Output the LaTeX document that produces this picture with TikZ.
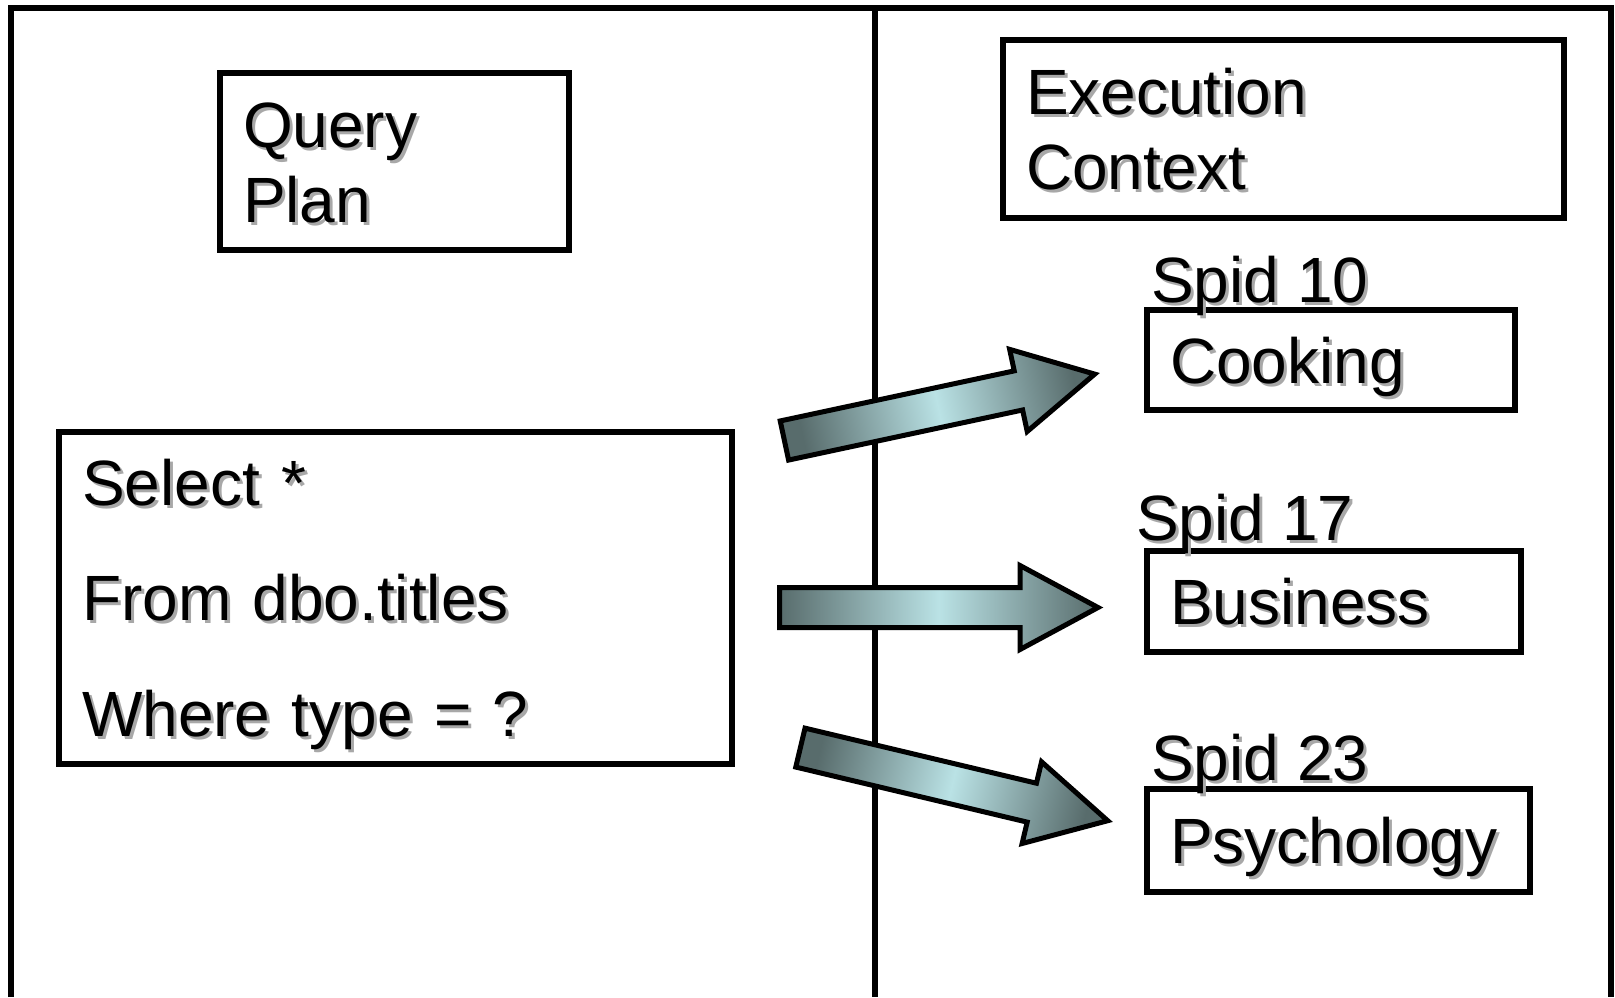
\documentclass[tikz,border=0pt]{standalone}
\usepackage{fontspec}
\setmainfont{Liberation Sans}
\usetikzlibrary{calc}

\definecolor{arrowdark}{RGB}{88,108,108}
\definecolor{arrowlight}{RGB}{186,226,229}
\definecolor{shadowgray}{RGB}{168,168,168}

% text with a soft drop shadow
\newcommand{\shd}[1]{\makebox[0pt][l]{\hspace{3pt}\raisebox{-3pt}{\textcolor{shadowgray}{#1}}}#1}

% block arrow between two named coordinates
\newcommand{\blockarrow}[3]{%
    \coordinate (#1-h) at ($(#2)!78pt!(#1)$);
    \draw[bigarrow, shading angle=#3]
        ($(#1)!20pt!90:(#2)$) -- ($(#1-h)!20pt!-90:(#1)$) -- ($(#1-h)!42pt!-90:(#1)$)
        -- (#2) -- ($(#1-h)!42pt!90:(#1)$) -- ($(#1-h)!20pt!90:(#1)$)
        -- ($(#1)!20pt!-90:(#2)$) -- cycle;
}

\begin{document}
\begin{tikzpicture}[
        x=1pt, y=-1pt,
        frame/.style={line width=6.5pt},
        box/.style={draw, line width=5.5pt, outer sep=0pt, inner xsep=23pt, align=left,
            font=\fontsize{64}{75}\selectfont},
        two lines/.style={text height=46pt, text depth=75pt},
        one line/.style={text height=46pt, text depth=0pt},
        tag/.style={inner sep=0pt, font=\fontsize{64}{75}\selectfont},
        bigarrow/.style={draw, line width=5pt, line join=miter,
            left color=arrowdark, right color=arrowdark, middle color=arrowlight},
    ]
    \useasboundingbox (0,0) rectangle (1615,997);

    % Outer frame and the divider
    \draw[frame] (11,997) -- (11,8) -- (1611,8) -- (1611,997);
    \draw[frame] (875,8) -- (875,997);

    % Draw the block arrows from the query to the contexts
    \foreach \i/\sx/\sy/\ex/\ey/\ang in {1/784.4/440.5/1094.7/374.1/102.1,
                                         2/779.5/607.5/1098/607.5/90,
                                         3/800.4/747.6/1107.7/820.7/76.6}
    {
        \coordinate (S-\i) at (\sx,\sy);
        \coordinate (T-\i) at (\ex,\ey);
        \blockarrow{S-\i}{T-\i}{\ang}
    }

    % Left side: plan and query text
    \node[box, two lines, minimum width=349pt, minimum height=177pt, text width=303pt]
        (plan) at (394.5,161.5) {\shd{Query}\\\shd{Plan}};
    \node[box, font=\fontsize{64}{115.5}\selectfont, text height=46pt, text depth=232pt,
        minimum width=673pt, minimum height=332pt, text width=627pt]
        (sel) at (395.5,598) {\shd{Select *}\\\shd{From dbo.titles}\\\shd{Where type = ?}};

    % Right side: execution contexts
    \node[box, two lines, minimum width=561pt, minimum height=178pt, text width=515pt]
        (ctx) at (1283.5,129) {\shd{Execution}\\\shd{Context}};
    \foreach \name/\ty/\w/\h/\txt/\num/\lx/\ly in {cook/310/368/100/Cooking/10/1151/302,
                                                  busi/551/374/101/Business/17/1136/540,
                                                  psych/789/383/103/Psychology/23/1151/780}
    {
        \node[box, one line, anchor=north west, minimum width=\w, minimum height=\h,
            text width=\w-46] (\name) at (1147,\ty) {\shd{\txt}};
        \node[tag, anchor=base west] (spid-\num) at (\lx,\ly) {\shd{Spid \num}};
    }
\end{tikzpicture}
\end{document}
